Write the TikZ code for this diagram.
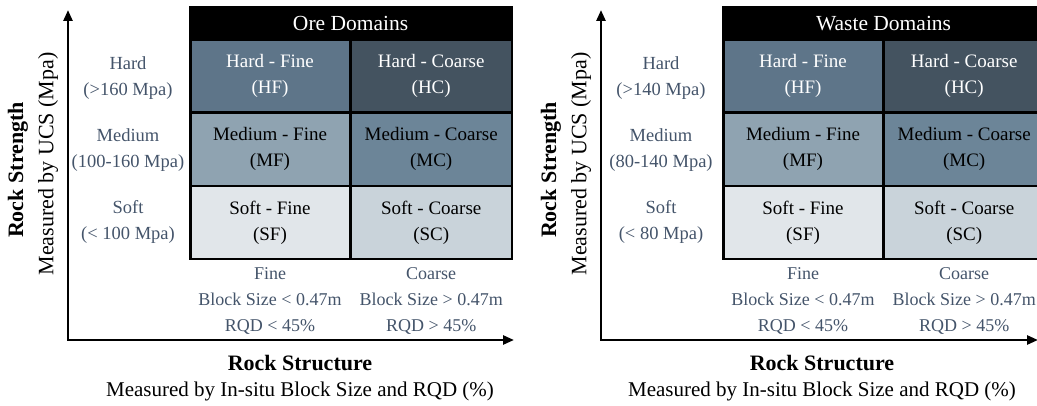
\documentclass[tikz,border=0pt]{standalone}
\usepackage{fontspec}
\setmainfont{Liberation Serif}
\usetikzlibrary{positioning,arrows.meta}

\definecolor{hfcol}{RGB}{94,117,137}
\definecolor{hccol}{RGB}{68,83,96}
\definecolor{mfcol}{RGB}{143,163,177}
\definecolor{mccol}{RGB}{108,133,152}
\definecolor{sfcol}{RGB}{225,230,234}
\definecolor{sccol}{RGB}{201,211,218}
\definecolor{labcol}{RGB}{68,84,106}

\tikzset{
  cell/.style={draw=black, line width=1.2pt, minimum width=160pt, minimum height=72pt,
    inner sep=0pt, align=center, font=\fontsize{19}{26}\selectfont},
  header/.style={fill=black, text=white, minimum width=320pt, minimum height=32pt,
    inner sep=0pt, font=\fontsize{21.5}{26}\selectfont},
  rowlab/.style={text=labcol, align=center, font=\fontsize{18.5}{26}\selectfont},
  collab/.style={text=labcol, align=center, font=\fontsize{18}{26}\selectfont},
  axisline/.style={line width=2.5pt, line join=miter,
    {Triangle[length=11pt,width=9pt]}-{Triangle[length=11pt,width=9pt]}},
  gridframe/.style={line width=2.5pt},
  boldlab/.style={font=\fontsize{22}{26}\selectfont\bfseries},
  plainlab/.style={font=\fontsize{22}{26}\selectfont},
  captionlab/.style={font=\fontsize{21}{26}\selectfont},
}

% #1 prefix, #2 shift, #3 title, #4-#6 ranges, #7 caption x, #8 x-axis end
\newcommand{\domainpanel}[8]{%
\begin{scope}[xshift=#2pt]
  % cells
  \node[cell, fill=hfcol, text=white] (#1-hf) at (270,329) {Hard - Fine\\(HF)};
  \node[cell, fill=hccol, text=white, right=0pt of #1-hf] (#1-hc) {Hard - Coarse\\(HC)};
  \node[cell, fill=mfcol, below=0pt of #1-hf] (#1-mf) {Medium - Fine\\(MF)};
  \node[cell, fill=mccol, right=0pt of #1-mf] (#1-mc) {Medium - Coarse\\(MC)};
  \node[cell, fill=sfcol, below=0pt of #1-mf] (#1-sf) {Soft - Fine\\(SF)};
  \node[cell, fill=sccol, right=0pt of #1-sf] (#1-sc) {Soft - Coarse\\(SC)};
  \node[header, above=0pt of #1-hf.north east] (#1-head) {#3};
  \draw[gridframe] (#1-head.north west) rectangle (#1-sc.south east);
  % row and column labels
  \node[rowlab] (#1-hard) at (128,327) {Hard\\#4};
  \node[rowlab] (#1-medium) at (128,255) {Medium\\#5};
  \node[rowlab] (#1-soft) at (128,183) {Soft\\#6};
  \node[collab, below=5pt of #1-sf] (#1-fine) {Fine\\Block Size < 0.47m\\RQD < 45\%};
  \node[collab, below=5pt of #1-sc] (#1-coarse) {Coarse\\Block Size > 0.47m\\RQD > 45\%};
  % axes
  \coordinate (#1-o) at (68,65);
  \coordinate (#1-ytip) at (68,395);
  \coordinate (#1-xtip) at (#8,65);
  \draw[axisline] (#1-ytip) -- (#1-o) -- (#1-xtip);
  \node[boldlab, rotate=90] (#1-strength) at (18,235) {Rock Strength};
  \node[plainlab, rotate=90] (#1-ucs) at (48,241) {Measured by UCS (Mpa)};
  \node[boldlab] (#1-structure) at (#7,42) {Rock Structure};
  \node[captionlab] (#1-insitu) at (#7,14) {Measured by In-situ Block Size and RQD (\%)};
\end{scope}}

\begin{document}
\begin{tikzpicture}[x=1pt, y=1pt]
  \useasboundingbox (0,0) rectangle (1037,405);
  \clip (0,0) rectangle (1037,405);
  \domainpanel{ore}{0}{Ore Domains}{(>160 Mpa)}{(100-160 Mpa)}{(< 100 Mpa)}{300}{514}
  \domainpanel{waste}{533}{Waste Domains}{(>140 Mpa)}{(80-140 Mpa)}{(< 80 Mpa)}{289}{505}
\end{tikzpicture}
\end{document}
